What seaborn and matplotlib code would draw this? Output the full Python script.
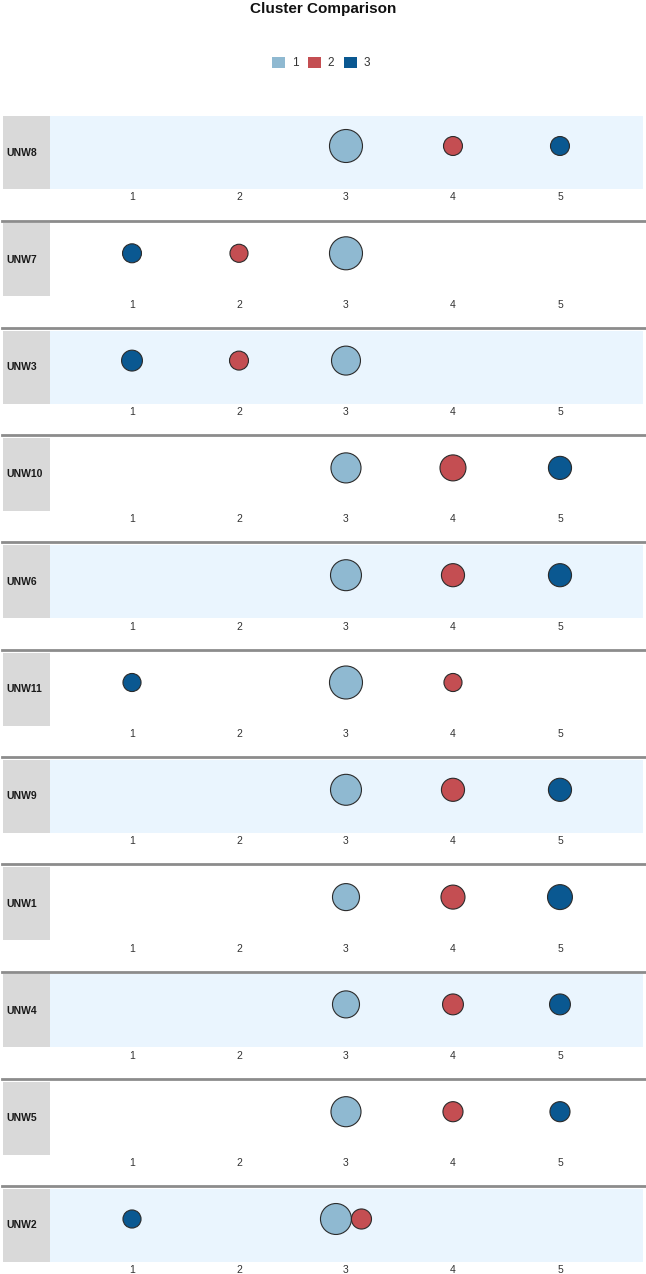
import numpy as np
import pandas as pd
import matplotlib.pyplot as plt
import seaborn as sb
from matplotlib.patches import Patch
from matplotlib.lines import Line2D

# panel labels, top to bottom
panels = ['UNW8', 'UNW7', 'UNW3', 'UNW10', 'UNW6', 'UNW11', 'UNW9', 'UNW1', 'UNW4', 'UNW5', 'UNW2']
clusters = ['1', '2', '3']
ticks = [1, 2, 3, 4, 5]

# rank (x position) of each cluster in each panel
rank_c1 = [3, 3, 3, 3, 3, 3, 3, 3, 3, 3, 3]
rank_c2 = [4, 2, 2, 4, 4, 4, 4, 4, 4, 4, 3]
rank_c3 = [5, 1, 1, 5, 5, 1, 5, 5, 5, 5, 1]

# relative bubble weight of each cluster in each panel
weight_c1 = [100, 100, 77, 83, 88, 100, 88, 67, 67, 83, 88]
weight_c2 = [33, 30, 33, 62, 49, 30, 49, 53, 40, 37, 37]
weight_c3 = [33, 33, 40, 49, 49, 30, 49, 57, 40, 37, 30]

palette = {'1': '#8fb9d1', '2': '#c44e52', '3': '#0a5891'}

W, H = 646, 1274
plt.rcParams['font.family'] = ['Liberation Sans', 'DejaVu Sans']
fig = plt.figure(figsize=(W / 100, H / 100), dpi=100)

# bubble area scale: weight 100 -> 564.5 pt^2
size_max = 564.5
xlim = (0.2336, 5.776)


def fx(px):
    return px / W


def fy(px):
    return 1 - px / H


rows = []
for i, p in enumerate(panels):
    for c, r, w in zip(clusters, [rank_c1[i], rank_c2[i], rank_c3[i]],
                       [weight_c1[i], weight_c2[i], weight_c3[i]]):
        rows.append({'panel': p, 'cluster': c, 'rank': r, 'weight': w})
df = pd.DataFrame(rows)

ax_left, ax_right = 50, 643
px_per_unit = (ax_right - ax_left) / (xlim[1] - xlim[0])

for k, p in enumerate(panels):
    top = 116 + 107.3 * k
    h = 73
    sub = df[df['panel'] == p].copy()
    # diameters in data units, then pack bubbles sharing a rank side by side
    diam = np.sqrt(sub['weight'] / 100 * size_max) / 0.72 / px_per_unit
    sub['diam'] = diam.values
    sub['x'] = sub['rank'].astype(float)
    for r, grp in sub.groupby('rank'):
        if len(grp) > 1:
            start = r - grp['diam'].sum() / 2
            for idx in grp.index:
                sub.loc[idx, 'x'] = start + sub.loc[idx, 'diam'] / 2
                start += sub.loc[idx, 'diam']
    sub['y'] = 0.0

    face = '#eaf5fe' if k % 2 == 0 else 'white'
    ax = fig.add_axes([fx(ax_left), fy(top + h), fx(ax_right - ax_left), h / H], facecolor=face)
    sb.scatterplot(data=sub, x='x', y='y', hue='cluster', hue_order=clusters, palette=palette,
                   size='weight', sizes=(0, size_max), size_norm=(0, 100), legend=False,
                   edgecolor='#2b2b2b', linewidth=0.8, ax=ax, zorder=3)
    ax.set_xlim(*xlim)
    ax.set_ylim(-43 / 30, 1)
    ax.set_xticks(ticks)
    ax.set_xticklabels([str(t) for t in ticks], fontsize=7.5, color='#333333')
    ax.tick_params(axis='x', length=0, pad=2.5)
    ax.set_yticks([])
    ax.set_xlabel('')
    ax.set_ylabel('')
    for s in ax.spines.values():
        s.set_visible(False)

    # gray label box
    lab = fig.add_axes([fx(3), fy(top + h), fx(47), h / H], facecolor='#d9d9d9')
    lab.set_xticks([])
    lab.set_yticks([])
    for s in lab.spines.values():
        s.set_visible(False)
    lab.text(0.07, 0.5, p, transform=lab.transAxes, ha='left', va='center',
             fontsize=7.5, fontweight='bold', color='#1a1a1a')

    if k < len(panels) - 1:
        ysep = fy(top + 104.5)
        fig.add_artist(Line2D([fx(2), 1], [ysep, ysep], color='#8c8c8c', lw=2))

fig.text(0.5, fy(9), 'Cluster Comparison', ha='center', va='center',
         fontsize=11, fontweight='bold', color='#111111')

handles = [Patch(facecolor=palette[c], edgecolor='none', label=c) for c in clusters]
fig.legend(handles=handles, loc='center', bbox_to_anchor=(fx(321), fy(63)), ncol=3,
           frameon=False, handlelength=1.1, handleheight=1.1, handletextpad=0.6,
           columnspacing=0.8, fontsize=8.5, labelcolor='#333333')

fig.savefig('out.png', dpi=100)
